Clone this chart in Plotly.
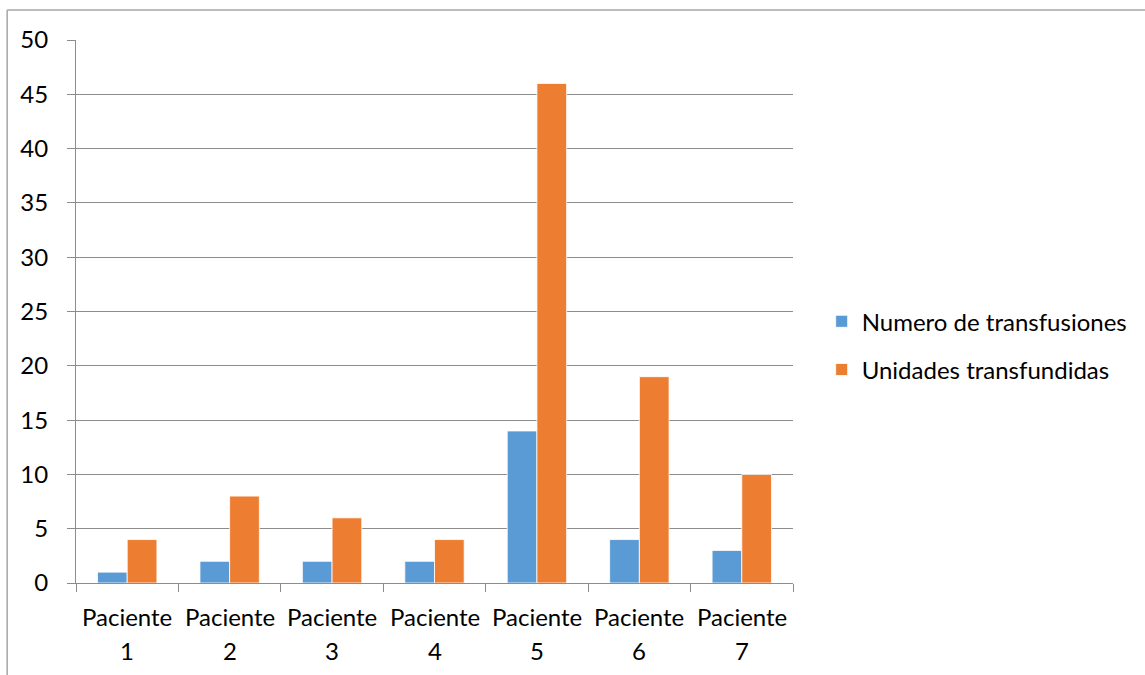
import plotly.graph_objects as go

# Patients and their transfusion counts
pacientes = ["Paciente 1", "Paciente 2", "Paciente 3", "Paciente 4",
             "Paciente 5", "Paciente 6", "Paciente 7"]
numero_transfusiones = [1, 2, 2, 2, 14, 4, 3]
unidades_transfundidas = [4, 8, 6, 4, 46, 19, 10]
y_ticks = [0, 5, 10, 15, 20, 25, 30, 35, 40, 45, 50]

FONT = "Lato"
GRID = "#8c8c8c"
FS = 24

fig = go.Figure()
fig.add_trace(go.Bar(
    x=pacientes, y=numero_transfusiones, name="Numero de transfusiones",
    marker=dict(color="#5B9BD5", line=dict(color="#ffffff", width=0.8)),
    legendgroup="a",
))
fig.add_trace(go.Bar(
    x=pacientes, y=unidades_transfundidas, name="Unidades transfundidas",
    marker=dict(color="#ED7D31", line=dict(color="#ffffff", width=0.8)),
    legendgroup="b",
))

# Category labels drawn on two lines with wide line spacing
for p in pacientes:
    word, num = p.split(" ")
    fig.add_annotation(x=p, y=-0.0626, xref="x", yref="paper", text=word,
                       showarrow=False, yanchor="middle",
                       font=dict(family=FONT, size=FS, color="#000"))
    fig.add_annotation(x=p, y=-0.125, xref="x", yref="paper", text=num,
                       showarrow=False, yanchor="middle",
                       font=dict(family=FONT, size=FS, color="#000"))

# Outer chart frame (top and left edges)
fig.add_shape(type="line", xref="paper", yref="paper",
              x0=-0.096, x1=1.6, y0=1.0552, y1=1.0552,
              line=dict(color="#a6a6a6", width=1.5))
fig.add_shape(type="line", xref="paper", yref="paper",
              x0=-0.096, x1=-0.096, y0=1.0552, y1=-0.3,
              line=dict(color="#a6a6a6", width=1.5))

fig.update_layout(
    width=1145, height=675,
    margin=dict(l=76, r=350, t=40, b=92),
    paper_bgcolor="white", plot_bgcolor="white",
    barmode="group", bargap=0.42, bargroupgap=0,
    font=dict(family=FONT, size=FS, color="#000000"),
    showlegend=True,
    legend=dict(x=1.04, y=0.437, xanchor="left", yanchor="middle",
                font=dict(family=FONT, size=FS), traceorder="grouped",
                tracegroupgap=14, itemwidth=30),
    xaxis=dict(
        type="category", tickson="boundaries", ticks="outside", ticklen=8,
        tickcolor=GRID, showline=True, linecolor=GRID, linewidth=1,
        showgrid=False, showticklabels=False,
    ),
    yaxis=dict(
        range=[0, 50], tickvals=y_ticks, ticks="outside", ticklen=8,
        tickcolor=GRID, showline=True, linecolor=GRID, linewidth=1,
        showgrid=True, gridcolor=GRID, gridwidth=1, zeroline=False,
        ticklabelstandoff=14, tickfont=dict(family=FONT, size=FS),
    ),
)

fig.write_html("out.html")
